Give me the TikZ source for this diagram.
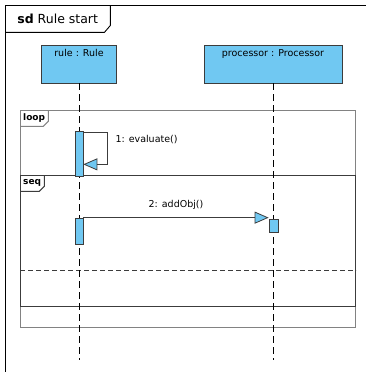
\documentclass[tikz,border=0pt]{standalone}
\usepackage{fontspec}
\setmainfont{DejaVu Sans}
\usetikzlibrary{arrows.meta,positioning,calc}
\definecolor{lifeblue}{RGB}{112,200,242}
\definecolor{edgegray}{RGB}{60,60,60}
\definecolor{loopgray}{RGB}{130,130,130}

\begin{document}
\begin{tikzpicture}[
  x=1pt, y=-1pt,
  font=\fontsize{9.5}{12}\selectfont,
  head/.style  ={draw=edgegray, fill=lifeblue, minimum height=38pt, inner sep=0pt, line width=0.7pt},
  act/.style   ={draw=edgegray, fill=lifeblue, minimum width=8pt, inner sep=0pt, line width=0.7pt},
  frag/.style  ={draw, minimum width=335pt, anchor=north west, inner sep=0pt, line width=1pt},
  tabtxt/.style={font=\fontsize{9}{10}\selectfont\bfseries, anchor=north west, inner xsep=3pt, inner ysep=2pt, minimum height=16pt},
  life/.style  ={draw=black, line width=0.7pt, dash pattern=on 7pt off 4pt},
  msg/.style   ={draw=edgegray, line width=0.8pt, -{Triangle[length=14pt, width=12pt, fill=lifeblue]}}
]
\useasboundingbox (0,0) rectangle (366,372);
% outer frame and its tab
\draw[line width=0.9pt] (5,372) -- (5,5) -- (366,5);
\node[anchor=north west, minimum width=105pt, minimum height=27pt, inner sep=0pt,
      font=\fontsize{12.5}{14}\selectfont] (sdtab) at (5,5) {\textbf{sd} Rule start};
\draw[line width=0.9pt] (sdtab.north east) -- ([yshift=7pt]sdtab.south east)
  -- ([xshift=-6pt]sdtab.south east) -- (sdtab.south west);
% combined fragments
\node[frag, draw=loopgray, minimum height=217pt] (loop) at (20,110) {};
\node[frag, draw=edgegray, minimum height=131pt] (seq) at (20,175) {};
\node[tabtxt] (looptab) at (loop.north west) {loop};
\draw[loopgray, line width=1pt] (looptab.north east) -- ([yshift=5pt]looptab.south east)
  -- ([xshift=-5pt]looptab.south east) -- (looptab.south west);
\node[tabtxt] (seqtab) at (seq.north west) {seq};
\draw[edgegray, line width=1pt] (seqtab.north east) -- ([yshift=5pt]seqtab.south east)
  -- ([xshift=-5pt]seqtab.south east) -- (seqtab.south west);
\draw[edgegray, line width=0.8pt, dash pattern=on 5pt off 3pt]
  ($(seq.north west)!0.719!(seq.south west)$) coordinate (sepl) -- (sepl -| seq.east);
% lifelines
\node[head, minimum width=75pt] (rule) at (79,64)
  {}; \node[below=1pt of rule.north] (rulelbl) {rule : Rule};
\node[head, minimum width=138pt] (proc) at (273,64)
  {}; \node[below=1pt of proc.north] (proclbl) {processor : Processor};
\coordinate (ruleend) at (rule.south |- 0,360);
\coordinate (procend) at (proc.south |- 0,360);
\draw[life] (rule.south) -- (ruleend);
\draw[life] (proc.south) -- (procend);
% activations
\node[act, minimum height=45pt] (act1) at (79,153.5) {};
\node[act, minimum height=26pt] (act2) at (79,231) {};
\node[act, minimum width=9pt, minimum height=13pt] (act3) at (273.5,225.5) {};
% messages
\draw[msg] ([yshift=-2pt]act1.north east) -- ++(24,0) |- ([yshift=12pt]act1.south east);
\node[anchor=west] (m1) at (112,140) {1: evaluate()};
\draw[msg] (act2.north east) -- node[above=4pt] (m2) {2: addObj()} (act2.north east -| act3.west);
\end{tikzpicture}
\end{document}
